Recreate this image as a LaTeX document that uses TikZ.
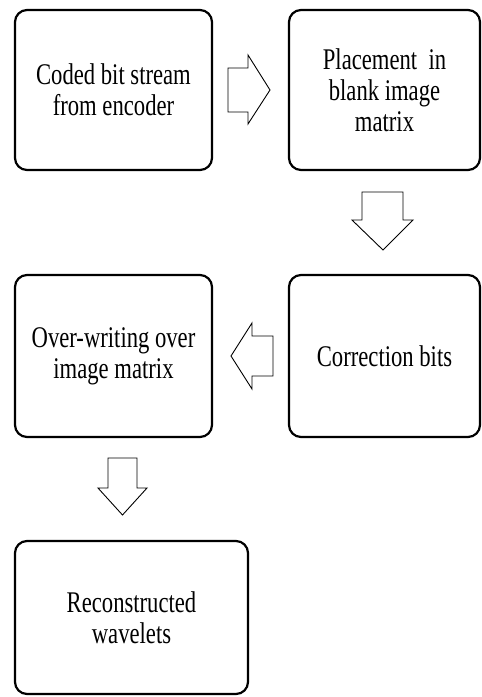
\documentclass[tikz,border=0pt]{standalone}
\usepackage{fontspec}
\setmainfont{Liberation Serif}[FakeStretch=0.755]
\begin{document}
\begin{tikzpicture}[x=1pt,y=-1pt,
  box/.style={draw, line width=2.2pt, rounded corners=12pt, align=center,
    font=\fontsize{30}{31}\selectfont, inner sep=0pt},
  barrow/.style={draw, line width=0.9pt, fill=white, line join=miter}]
\useasboundingbox (0,0) rectangle (482,697);
\node[box, minimum width=197pt, minimum height=160pt] (b1) at (113.5,90) {Coded bit stream\\from encoder};
\node[box, minimum width=191pt, minimum height=160pt] (b2) at (384.5,90) {Placement\ \ in\\blank image\\matrix};
\node[box, minimum width=191pt, minimum height=162pt] (b3) at (384.5,356) {Correction bits};
\node[box, minimum width=197pt, minimum height=162pt] (b4) at (113.5,356) {Over-writing over\\image matrix};
\node[box, minimum width=233pt, minimum height=153pt] (b5) at (131.5,617.5) {Reconstructed\\wavelets};
% block arrows
\draw[barrow] (228,68) -- (248,68) -- (248,55) -- (270,90) -- (248,124) -- (248,112) -- (228,112) -- cycle;
\draw[barrow] (362,192) -- (403,192) -- (403,220) -- (413,220) -- (383,250) -- (352,220) -- (362,220) -- cycle;
\draw[barrow] (273,336) -- (252,336) -- (252,323) -- (231,356) -- (252,389) -- (252,376) -- (273,376) -- cycle;
\draw[barrow] (108,458) -- (137,458) -- (137,488) -- (147,488) -- (122.5,515) -- (98,488) -- (108,488) -- cycle;
\end{tikzpicture}
\end{document}
